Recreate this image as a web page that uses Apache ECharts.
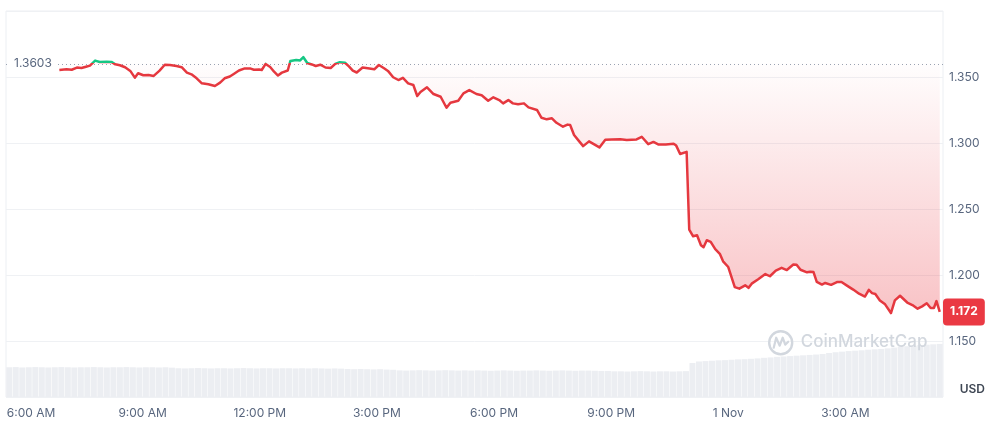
<!DOCTYPE html>
<html><head><meta charset="utf-8">
<script src="https://cdn.jsdelivr.net/npm/echarts@6/dist/echarts.min.js"></script>
<style>html,body{margin:0;padding:0;background:#fff}#c{width:991px;height:426px}</style>
</head><body><div id="c"></div>
<script>
// reference (open) price shown with the dotted line
const referencePrice = 1.3603;
// price samples: minutes since 31 Oct 00:00, and price in USD
const priceMinutes = [412,423,431,439,446,453,459,467,474,485,492,498,505,513,521,528,533,541,549,557,566,574,582,592,600,608,615,623,631,641,651,659,666,674,680,688,697,705,711,719,723,729,736,742,748,754,763,767,776,782,787,793,800,806,813,821,829,836,843,851,857,863,869,878,886,896,903,911,917,925,933,940,948,956,962,967,977,987,998,1007,1013,1025,1033,1042,1053,1061,1071,1079,1088,1094,1102,1109,1117,1126,1133,1146,1153,1161,1169,1176,1186,1193,1197,1203,1210,1217,1226,1242,1251,1261,1274,1284,1299,1307,1317,1325,1333,1344,1356,1360,1366,1376,1380,1386,1392,1398,1402,1407,1413,1420,1427,1432,1440,1445,1450,1457,1466,1471,1476,1486,1497,1504,1513,1522,1530,1540,1545,1551,1561,1566,1571,1576,1584,1589,1598,1607,1614,1623,1632,1641,1650,1656,1661,1666,1673,1681,1690,1696,1704,1715,1723,1731,1738,1745,1751,1756,1760,1765];
const priceValues = [1.3553,1.3558,1.3555,1.3571,1.3568,1.3578,1.3586,1.3624,1.3614,1.3616,1.3614,1.3596,1.3589,1.3574,1.3546,1.3495,1.3528,1.3513,1.3515,1.3508,1.3548,1.3593,1.3591,1.3583,1.3574,1.3533,1.3520,1.3490,1.3452,1.3445,1.3432,1.3457,1.3490,1.3504,1.3523,1.3549,1.3565,1.3565,1.3555,1.3557,1.3553,1.3599,1.3576,1.3540,1.3511,1.3533,1.3549,1.3621,1.3629,1.3625,1.3650,1.3606,1.3595,1.3583,1.3593,1.3572,1.3568,1.3599,1.3612,1.3608,1.3580,1.3548,1.3534,1.3572,1.3566,1.3558,1.3591,1.3566,1.3546,1.3498,1.3477,1.3494,1.3452,1.3439,1.3356,1.3386,1.3422,1.3371,1.3350,1.3267,1.3305,1.3320,1.3376,1.3401,1.3371,1.3361,1.3320,1.3346,1.3325,1.3300,1.3325,1.3300,1.3293,1.3300,1.3270,1.3250,1.3191,1.3179,1.3187,1.3153,1.3123,1.3139,1.3136,1.3060,1.3018,1.2976,1.3012,1.2966,1.3024,1.3026,1.3029,1.3022,1.3027,1.3047,1.2991,1.3008,1.2988,1.2989,1.2994,1.2980,1.2916,1.2933,1.2344,1.2293,1.2301,1.2225,1.2210,1.2263,1.2251,1.2195,1.2160,1.2103,1.2060,1.1984,1.1908,1.1896,1.1921,1.1902,1.1934,1.1967,1.2007,1.1990,1.2033,1.2054,1.2037,1.2079,1.2078,1.2039,1.2020,1.2024,1.2022,1.1948,1.1927,1.1939,1.1925,1.1946,1.1946,1.1917,1.1889,1.1858,1.1836,1.1887,1.1862,1.1855,1.1807,1.1777,1.1711,1.1807,1.1842,1.1791,1.1772,1.1744,1.1762,1.1785,1.1749,1.1749,1.1802,1.1720];
// volume bars (M USD), one per 10 minutes starting 05:35
const volumeStartMinute = 335;
const volumeStepMinutes = 10;
const volumeValues = [15.4,15.5,15.3,15.4,15.5,15.4,15.3,15.4,15.5,15.4,15.3,15.4,15.4,15.5,15.4,15.3,15.4,15.4,15.5,15.4,15.3,15.4,15.4,15.3,15.4,15.2,
14.9,14.8,14.9,15.0,14.9,14.8,14.9,14.9,14.8,14.9,15.0,14.9,14.8,14.9,14.9,14.8,14.9,14.9,14.8,14.9,14.8,14.9,14.8,14.7,14.8,14.7,
14.5,14.4,14.5,14.4,14.3,14.4,14.2,14.1,
13.8,13.7,13.8,13.9,13.8,13.7,13.8,13.9,13.8,13.7,13.8,
13.7,13.8,13.7,13.6,13.7,13.8,13.7,13.6,13.7,13.7,13.8,13.7,13.6,13.7,13.8,13.7,13.6,13.7,13.7,13.6,13.5,13.5,
13.3,13.3,13.2,13.3,13.4,13.3,13.2,13.3,13.3,13.2,13.3,13.4,
17.6,
18.4,18.6,18.8,19.0,19.1,19.3,19.5,19.6,19.8,20.0,
20.3,20.5,20.8,21.0,21.2,21.4,21.6,21.8,22.0,22.3,
22.8,23.2,23.5,23.8,24.0,24.2,24.5,24.7,24.9,25.2,
25.6,26.0,26.3,26.6,26.9,27.1,27.3,27.5];
// axis ticks
const xTickValues = [360,540,720,900,1080,1260,1440,1620];
const xTickLabels = ['6:00 AM','9:00 AM','12:00 PM','3:00 PM','6:00 PM','9:00 PM','1 Nov','3:00 AM'];
const yTickValues = [1.15,1.2,1.25,1.3,1.35];
const xMin = 330, xMax = 1770;
const yMin = 1.1075, yMax = 1.4;
const volumeMax = 200;

const priceData = priceMinutes.map((m, i) => [m, priceValues[i]]);
const volumeData = volumeValues.map((v, i) => [volumeStartMinute + i * volumeStepMinutes, v]);
const lastPrice = priceValues[priceValues.length - 1];

const FONT = 'Inter, "Noto Sans", sans-serif';
const GREY = '#58667e';
const RED = '#e5383f', GREEN = '#16c784';
const WM = '#d2d7de';

const chart = echarts.init(document.getElementById('c'), null, {renderer: 'canvas'});

function baseOption(lineColor) {
  return {
  animation: false,
  backgroundColor: '#fff',
  textStyle: {fontFamily: FONT},
  grid: {left: 6, right: 48, top: 11, bottom: 29, show: true, borderColor: '#eceff3', borderWidth: 1, backgroundColor: 'transparent'},
  xAxis: {
    type: 'value', min: xMin, max: xMax,
    axisLine: {show: false}, axisTick: {show: false}, splitLine: {show: false},
    axisLabel: {
      customValues: xTickValues,
      color: GREY, fontSize: 12, fontFamily: FONT, margin: 10,
      formatter: function (v) {
        const i = xTickValues.indexOf(v);
        if (i === 0) return '{first|' + xTickLabels[i] + '}';
        return i >= 0 ? xTickLabels[i] : '';
      },
      rich: {first: {padding: [0, 0, 0, 11], color: GREY, fontSize: 12, fontFamily: FONT}}
    }
  },
  yAxis: [
    {
      type: 'value', position: 'right', min: yMin, max: yMax, scale: true,
      axisLine: {show: false}, axisTick: {show: false},
      splitLine: {show: true, lineStyle: {color: '#eff1f4', width: 1}},
      axisLabel: {customValues: yTickValues, color: GREY, fontSize: 12, fontFamily: FONT, margin: 6,
        formatter: v => v.toFixed(3)}
    },
    {
      type: 'value', min: 0, max: volumeMax, show: false
    },
    {
      type: 'value', position: 'left', min: yMin, max: yMax, scale: true, z: 10,
      axisLine: {show: false}, axisTick: {show: false}, splitLine: {show: false},
      axisLabel: {customValues: [referencePrice], inside: true, margin: 4, color: GREY, fontSize: 12, fontFamily: FONT,
        backgroundColor: '#fff', padding: [2, 4, 2, 4], formatter: v => referencePrice.toFixed(4)}
    },
    {
      type: 'value', position: 'right', min: yMin, max: yMax, scale: true, z: 10,
      axisLine: {show: false}, axisTick: {show: false}, splitLine: {show: false},
      axisLabel: {customValues: [lastPrice], margin: 0, color: '#fff', fontSize: 12, fontWeight: 'bold', fontFamily: FONT,
        backgroundColor: '#ea3943', borderRadius: 4, padding: [8, 7, 7, 7], formatter: v => lastPrice.toFixed(3)}
    }
  ],
  series: [
    {
      type: 'line', data: priceData, xAxisIndex: 0, yAxisIndex: 0,
      showSymbol: false, symbol: 'none', z: 5,
      lineStyle: {width: 2.5, color: lineColor, join: 'round'},
      areaStyle: {
        origin: referencePrice,
        color: new echarts.graphic.LinearGradient(0, 0, 0, 1, [
          {offset: 0, color: 'rgba(234,57,67,0)'},
          {offset: 1, color: 'rgba(234,57,67,0.30)'}
        ]),
        opacity: 1
      },
      markLine: {
        silent: true, symbol: 'none',
        lineStyle: {type: [1, 3], color: '#9aa3b2', width: 1},
        label: {show: false},
        data: [{yAxis: referencePrice}]
      }
    },
    {
      type: 'bar', data: volumeData, xAxisIndex: 0, yAxisIndex: 1,
      barWidth: 6, silent: true, z: 1,
      itemStyle: {color: '#eceef2'}
    }
  ],
  graphic: [
    {type: 'text', right: 6, top: 383, z: 100, style: {text: 'USD', fill: '#3f4754', font: '600 12px ' + FONT}},
    {type: 'group', left: 768, top: 330, z: 100, children: [
      {type: 'circle', z: 100, shape: {cx: 13, cy: 13, r: 11.5}, style: {fill: 'rgba(255,255,255,0.4)', stroke: WM, lineWidth: 2.4}},
      {type: 'polyline', z: 100, shape: {points: [[6, 18], [8.5, 8], [12, 16], [15, 8], [17.5, 15], [20.5, 12]]},
        style: {fill: 'none', stroke: WM, lineWidth: 2.2, lineJoin: 'round', lineCap: 'round'}},
      {type: 'text', z: 100, x: 33, y: 4, style: {text: 'CoinMarketCap', fill: WM, font: '500 17px ' + FONT}}
    ]}
  ]
  };
}

// first pass: solid red line, then split colour at the reference price using the axis scale
chart.setOption(baseOption(RED));
const refY = chart.convertToPixel({yAxisIndex: 0}, referencePrice);
const chartH = chart.getHeight();
const split = Math.min(Math.max(refY / chartH, 0), 1);
const twoTone = new echarts.graphic.LinearGradient(0, 0, 0, chartH, [
  {offset: 0, color: GREEN},
  {offset: split, color: GREEN},
  {offset: split, color: RED},
  {offset: 1, color: RED}
], true);
chart.setOption({series: [{lineStyle: {color: twoTone}}]});
</script>
</body></html>
